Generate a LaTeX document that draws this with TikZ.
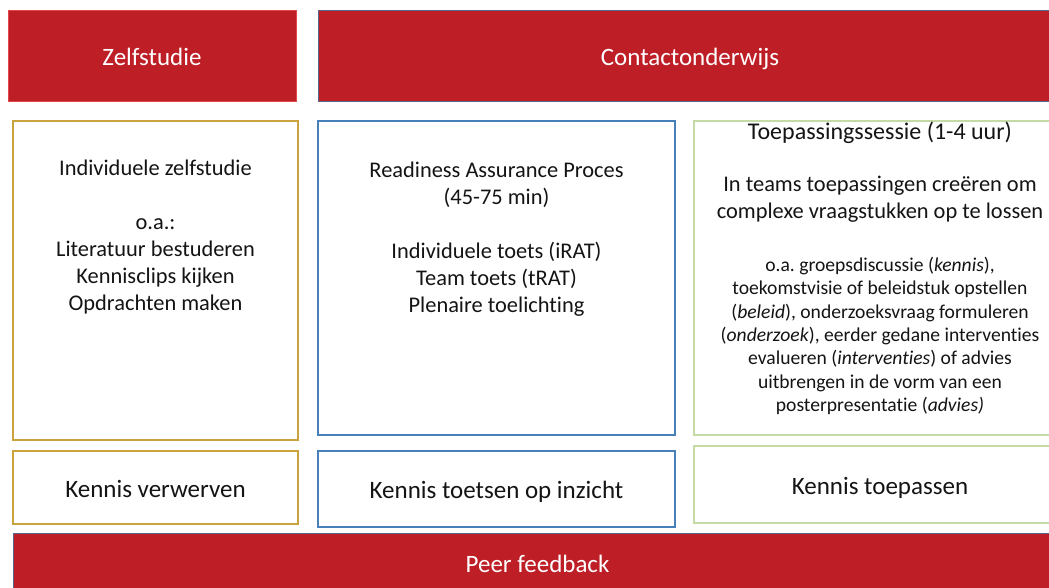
\documentclass[tikz,border=0pt]{standalone}
\usepackage{fontspec}
\setmainfont{Carlito}[Ligatures=NoCommon]
\usepackage{tikz}
\frenchspacing

\definecolor{kopred}{RGB}{190,30,38}
\definecolor{koprand}{RGB}{228,70,74}
\definecolor{leirand}{RGB}{84,106,140}
\definecolor{goudrand}{RGB}{201,164,62}
\definecolor{blauwrand}{RGB}{72,128,186}
\definecolor{groenrand}{RGB}{198,218,166}
\definecolor{inkt}{RGB}{20,20,20}

\begin{document}
\begin{tikzpicture}[x=1pt,y=-1pt,
    kop/.style={fill=kopred, text=white, inner sep=0pt, line width=1pt,
        text height=22pt, text depth=3pt, font=\fontsize{25}{30}\selectfont},
    vak/.style={fill=white, inner sep=0pt, line width=1.5pt, text=inkt,
        text height=22pt, text depth=3pt, font=\fontsize{25}{30}\selectfont},
    tekst/.style={align=center, text=inkt, inner sep=0pt,
        font=\fontsize{22.4}{27}\selectfont},
    kleintekst/.style={align=center, text=inkt, inner sep=0pt,
        font=\fontsize{19.6}{23.4}\selectfont}]
        % Page area
            \clip (0,0) rectangle (1049,587);

        % Draw the headers
            \node[kop, draw=koprand, minimum width=288pt, minimum height=91pt] (zelf) at (152,55.5) {Zelfstudie};
            \node[kop, draw=leirand, minimum width=744pt, minimum height=91pt] (contact) at (690,55.5) {Contactonderwijs};

        % Draw the three columns
            \node[vak, draw=goudrand, minimum width=285pt, minimum height=319pt] (studie) at (155.5,280.5) {};
            \node[vak, draw=blauwrand, minimum width=357pt, minimum height=314pt] (rap) at (496.5,278) {};
            \node[vak, draw=groenrand, minimum width=372pt, minimum height=314pt] (sessie) at (880,278) {};

        % Text in the columns
            \node[tekst] (studietxt) at (studie.center |- 0,237)
                {Individuele zelfstudie\\[27pt]o.a.:\\Literatuur bestuderen\\Kennisclips kijken\\Opdrachten maken};
            \node[tekst] (raptxt) at (rap.center |- 0,239.5)
                {Readiness Assurance Proces\\(45-75 min)\\[27pt]Individuele toets (iRAT)\\Team toets (tRAT)\\Plenaire toelichting};
            \node[tekst, font=\fontsize{24}{29}\selectfont] (sessietitel) at (sessie.center |- 0,133) {Toepassingssessie (1-4 uur)};
            \node[tekst] (sessieteams) at (sessie.center |- 0,199.5)
                {In teams toepassingen creëren om\\complexe vraagstukken op te lossen};
            \node[kleintekst] (sessievb) at (sessie.center |- 0,336)
                {o.a. groepsdiscussie (\textit{kennis}),\\toekomstvisie of beleidstuk opstellen\\(\textit{beleid}), onderzoeksvraag formuleren\\(\textit{onderzoek}), eerder gedane interventies\\evalueren (\textit{interventies}) of advies\\uitbrengen in de vorm van een\\posterpresentatie (\textit{advies)}};

        % Draw the goals underneath
            \node[vak, draw=goudrand, minimum width=285pt, minimum height=73pt] (verwerven) at (155.5,487.5) {Kennis verwerven};
            \node[vak, draw=blauwrand, minimum width=357pt, minimum height=76pt] (toetsen) at (496.5,489) {Kennis toetsen op inzicht};
            \node[vak, draw=groenrand, minimum width=372pt, minimum height=77pt] (toepassen) at (880,484.5) {Kennis toepassen};

        % Draw the bar at the bottom
            \node[kop, draw=leirand, minimum width=1049pt, minimum height=60pt] (peer) at (537.5,563) {Peer feedback};
    \end{tikzpicture}
\end{document}
